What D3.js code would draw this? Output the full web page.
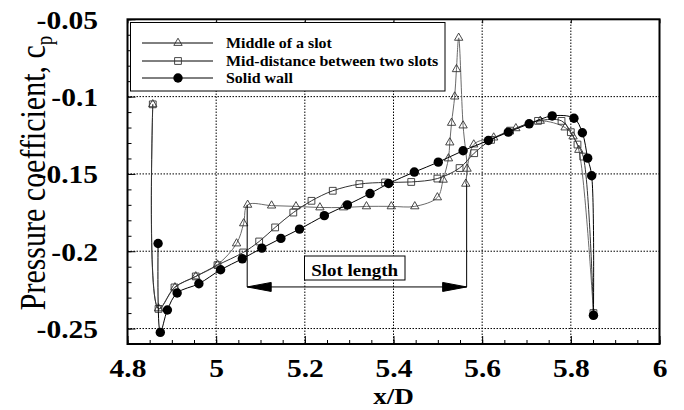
<!DOCTYPE html>
<html>
<head>
<meta charset="utf-8">
<script src="https://cdn.jsdelivr.net/npm/d3@7"></script>
<style>
  body { margin: 0; background: #fff; }
  svg { display: block; }
</style>
</head>
<body>
<svg id="chart"></svg>
<script>
// x/D positions and pressure coefficients
const slotMidX = [4.857, 4.870, 4.907, 4.954, 5.003, 5.046, 5.062, 5.071, 5.125, 5.180, 5.234, 5.287,
  5.339, 5.395, 5.448, 5.499, 5.512, 5.524, 5.527, 5.531, 5.538, 5.542, 5.547, 5.557, 5.566, 5.563,
  5.581, 5.626, 5.676, 5.731, 5.787, 5.805, 5.818, 5.851];
const slotMidY = [-0.105, -0.237, -0.2234, -0.2163, -0.2087, -0.195, -0.182, -0.170, -0.1705, -0.171, -0.1717, -0.1717,
  -0.171, -0.171, -0.171, -0.1652, -0.1538, -0.140, -0.1297, -0.117, -0.100, -0.0823, -0.062, -0.1187, -0.1467, -0.1564,
  -0.131, -0.1265, -0.1205, -0.1157, -0.120, -0.1258, -0.1345, -0.240];

const betweenX = [4.857, 4.870, 4.906, 4.954, 5.003, 5.061, 5.097, 5.133, 5.174, 5.215, 5.263, 5.323,
  5.381, 5.440, 5.499, 5.549, 5.582, 5.620, 5.663, 5.726, 5.779, 5.800, 5.815, 5.828, 5.851];
const betweenY = [-0.105, -0.2373, -0.2234, -0.2163, -0.209, -0.2008, -0.1937, -0.1846, -0.175, -0.1674, -0.1609, -0.1566,
  -0.1555, -0.1552, -0.153, -0.1462, -0.1366, -0.128, -0.122, -0.1157, -0.1157, -0.123, -0.131, -0.1388, -0.240];

const wallX = [4.869, 4.874, 4.890, 4.912, 4.961, 5.010, 5.059, 5.103, 5.146, 5.188, 5.244, 5.296,
  5.347, 5.389, 5.447, 5.501, 5.557, 5.614, 5.659, 5.706, 5.758, 5.807, 5.826, 5.838, 5.847, 5.851];
const wallY = [-0.195, -0.2525, -0.238, -0.227, -0.221, -0.212, -0.2049, -0.198, -0.1917, -0.1857, -0.177, -0.170,
  -0.1627, -0.1562, -0.1488, -0.1424, -0.135, -0.1284, -0.123, -0.1176, -0.1125, -0.114, -0.1234, -0.1398, -0.1512, -0.2415];

const seriesNames = ["Middle of a slot", "Mid-distance between two slots", "Solid wall"];
const xTicks = [4.8, 5, 5.2, 5.4, 5.6, 5.8, 6];
const yTicks = [-0.25, -0.2, -0.15, -0.1, -0.05];

// slot start / end and height of the dimension arrow
const slotStart = 5.07, slotEnd = 5.565, arrowY = -0.2231;

const width = 684, height = 410;
const margin = {top: 19.3, right: 24.5, bottom: 66, left: 127.5};
const serif = "'Liberation Serif', 'Times New Roman', serif";
const stretch = 1.18; // the source figure is a little wider than tall

const svg = d3.select("#chart").attr("width", width).attr("height", height);

const x = d3.scaleLinear().domain([4.8, 6]).range([margin.left, width - margin.right]);
const y = d3.scaleLinear().domain([-0.26, -0.05]).range([height - margin.bottom, margin.top]);

const x0 = x.range()[0], x1 = x.range()[1], y0 = y.range()[0], y1 = y.range()[1];

// dotted grid
const grid = svg.append("g").attr("stroke", "#000").attr("stroke-width", 1).attr("stroke-dasharray", "1.5,1.5");
grid.selectAll(".gx").data(xTicks.slice(1, -1)).join("line")
    .attr("x1", d => x(d)).attr("x2", d => x(d)).attr("y1", y0).attr("y2", y1);
grid.selectAll(".gy").data(yTicks.slice(0, -1)).join("line")
    .attr("x1", x0).attr("x2", x1).attr("y1", d => y(d)).attr("y2", d => y(d));

// axes
function styleAxis(g) {
  g.select(".domain").remove();
  g.selectAll("line").attr("stroke", "#000");
}
svg.append("g")
    .attr("transform", `translate(0,${y0})`)
    .call(d3.axisBottom(x).tickValues(d3.range(4.8, 6.001, 0.05)).tickSize(-4).tickFormat(""))
    .call(styleAxis);
svg.append("g")
    .attr("transform", `translate(${x0},0)`)
    .call(d3.axisLeft(y).tickValues(d3.range(-0.26, -0.0499, 0.01)).tickSize(-4).tickFormat(""))
    .call(styleAxis);
svg.append("g")
    .attr("transform", `translate(0,${y1})`)
    .call(d3.axisTop(x).tickValues(xTicks).tickSize(-4).tickFormat(""))
    .call(styleAxis);

const xAxis = svg.append("g")
    .attr("transform", `translate(0,${y0})`)
    .call(d3.axisBottom(x).tickValues(xTicks).tickSize(-8).tickFormat(d => String(d)))
    .call(styleAxis);
xAxis.selectAll("text")
    .attr("y", 33).attr("dy", 0)
    .attr("transform", `scale(${stretch},1)`)
    .style("font-family", serif).style("font-size", "25px").style("font-weight", "bold").attr("fill", "#000");

const yAxis = svg.append("g")
    .attr("transform", `translate(${x0},0)`)
    .call(d3.axisLeft(y).tickValues(yTicks).tickSize(-8).tickFormat(d => String(d)))
    .call(styleAxis);
yAxis.selectAll("text")
    .attr("x", -29.5 / stretch).attr("dy", "0.36em")
    .attr("transform", `scale(${stretch},1)`)
    .style("font-family", serif).style("font-size", "25px").style("font-weight", "bold").attr("fill", "#000");

// frame
svg.append("rect")
    .attr("x", x0).attr("y", y1).attr("width", x1 - x0).attr("height", y0 - y1)
    .attr("fill", "none").attr("stroke", "#000").attr("stroke-width", 2);

// axis titles
svg.append("text")
    .attr("transform", `translate(${(x0 + x1) / 2},404) scale(${stretch},1)`)
    .attr("text-anchor", "middle")
    .style("font-family", serif).style("font-size", "23px").style("font-weight", "bold")
    .text("x/D");

const yTitle = svg.append("text")
    .attr("transform", `translate(45,173) scale(${stretch},1) rotate(-90)`)
    .attr("text-anchor", "middle")
    .style("font-family", serif).style("font-size", "30px");
yTitle.append("tspan").text("Pressure coefficient, c");
yTitle.append("tspan").attr("dy", 6).style("font-size", "19px").text("p");

// series
const series = [
  {xs: slotMidX, ys: slotMidY, line: "#6a6a6a", marker: "triangle"},
  {xs: betweenX, ys: betweenY, line: "#333", marker: "square"},
  {xs: wallX, ys: wallY, line: "#000", marker: "circle"}
];

const line = d3.line()
    .x(d => x(d[0])).y(d => y(d[1]))
    .curve(d3.curveCatmullRom.alpha(0.5));

function drawMarker(g, kind, cx, cy) {
  if (kind === "circle") {
    g.append("circle").attr("cx", cx).attr("cy", cy).attr("r", 4.7).attr("fill", "#000");
  } else {
    const sym = kind === "triangle" ? d3.symbolTriangle : d3.symbolSquare;
    const size = kind === "triangle" ? 30 : 46;
    g.append("path")
        .attr("d", d3.symbol(sym, size)())
        .attr("transform", `translate(${cx},${cy})`)
        .attr("fill", "none").attr("stroke", "#333").attr("stroke-width", 0.9);
  }
}

series.forEach(s => {
  const pts = s.xs.map((v, i) => [v, s.ys[i]]);
  svg.append("path").datum(pts)
      .attr("d", line)
      .attr("fill", "none").attr("stroke", s.line).attr("stroke-width", 1);
  const mg = svg.append("g");
  pts.forEach(p => drawMarker(mg, s.marker, x(p[0]), y(p[1])));
});

// slot length dimension
const ann = svg.append("g").attr("stroke", "#000").attr("stroke-width", 1);
const ay = y(arrowY);
ann.append("line").attr("x1", x(slotStart)).attr("x2", x(slotStart)).attr("y1", y(-0.170)).attr("y2", ay);
ann.append("line").attr("x1", x(slotEnd)).attr("x2", x(slotEnd)).attr("y1", y(-0.1564)).attr("y2", ay);
ann.append("line").attr("x1", x(slotStart)).attr("x2", x(slotEnd)).attr("y1", ay).attr("y2", ay);
ann.append("path")
    .attr("d", `M${x(slotStart)},${ay} l24,-4.5 l0,9 Z`).attr("fill", "#000");
ann.append("path")
    .attr("d", `M${x(slotEnd)},${ay} l-24,-4.5 l0,9 Z`).attr("fill", "#000");

svg.append("rect")
    .attr("x", 304.5).attr("y", 256).attr("width", 100.5).attr("height", 24)
    .attr("fill", "#fff").attr("stroke", "#000").attr("stroke-width", 1);
svg.append("text")
    .attr("transform", `translate(354.7,276) scale(1.15,1)`)
    .attr("text-anchor", "middle")
    .style("font-family", serif).style("font-size", "16.5px").style("font-weight", "bold")
    .text("Slot length");

// legend
const legend = svg.append("g");
legend.append("rect")
    .attr("x", 130.5).attr("y", 22.5).attr("width", 314.5).attr("height", 68.5)
    .attr("fill", "#fff").attr("stroke", "#000").attr("stroke-width", 1);
const rowsY = [43, 61, 78];
series.forEach((s, i) => {
  legend.append("line").attr("x1", 142).attr("x2", 213).attr("y1", rowsY[i]).attr("y2", rowsY[i])
      .attr("stroke", "#000").attr("stroke-width", 1);
  drawMarker(legend, s.marker, 178, rowsY[i]);
  legend.append("text")
      .attr("transform", `translate(226,${rowsY[i] + 5}) scale(1.14,1)`)
      .style("font-family", serif).style("font-size", "14px").style("font-weight", "bold")
      .text(seriesNames[i]);
});
</script>
</body>
</html>
